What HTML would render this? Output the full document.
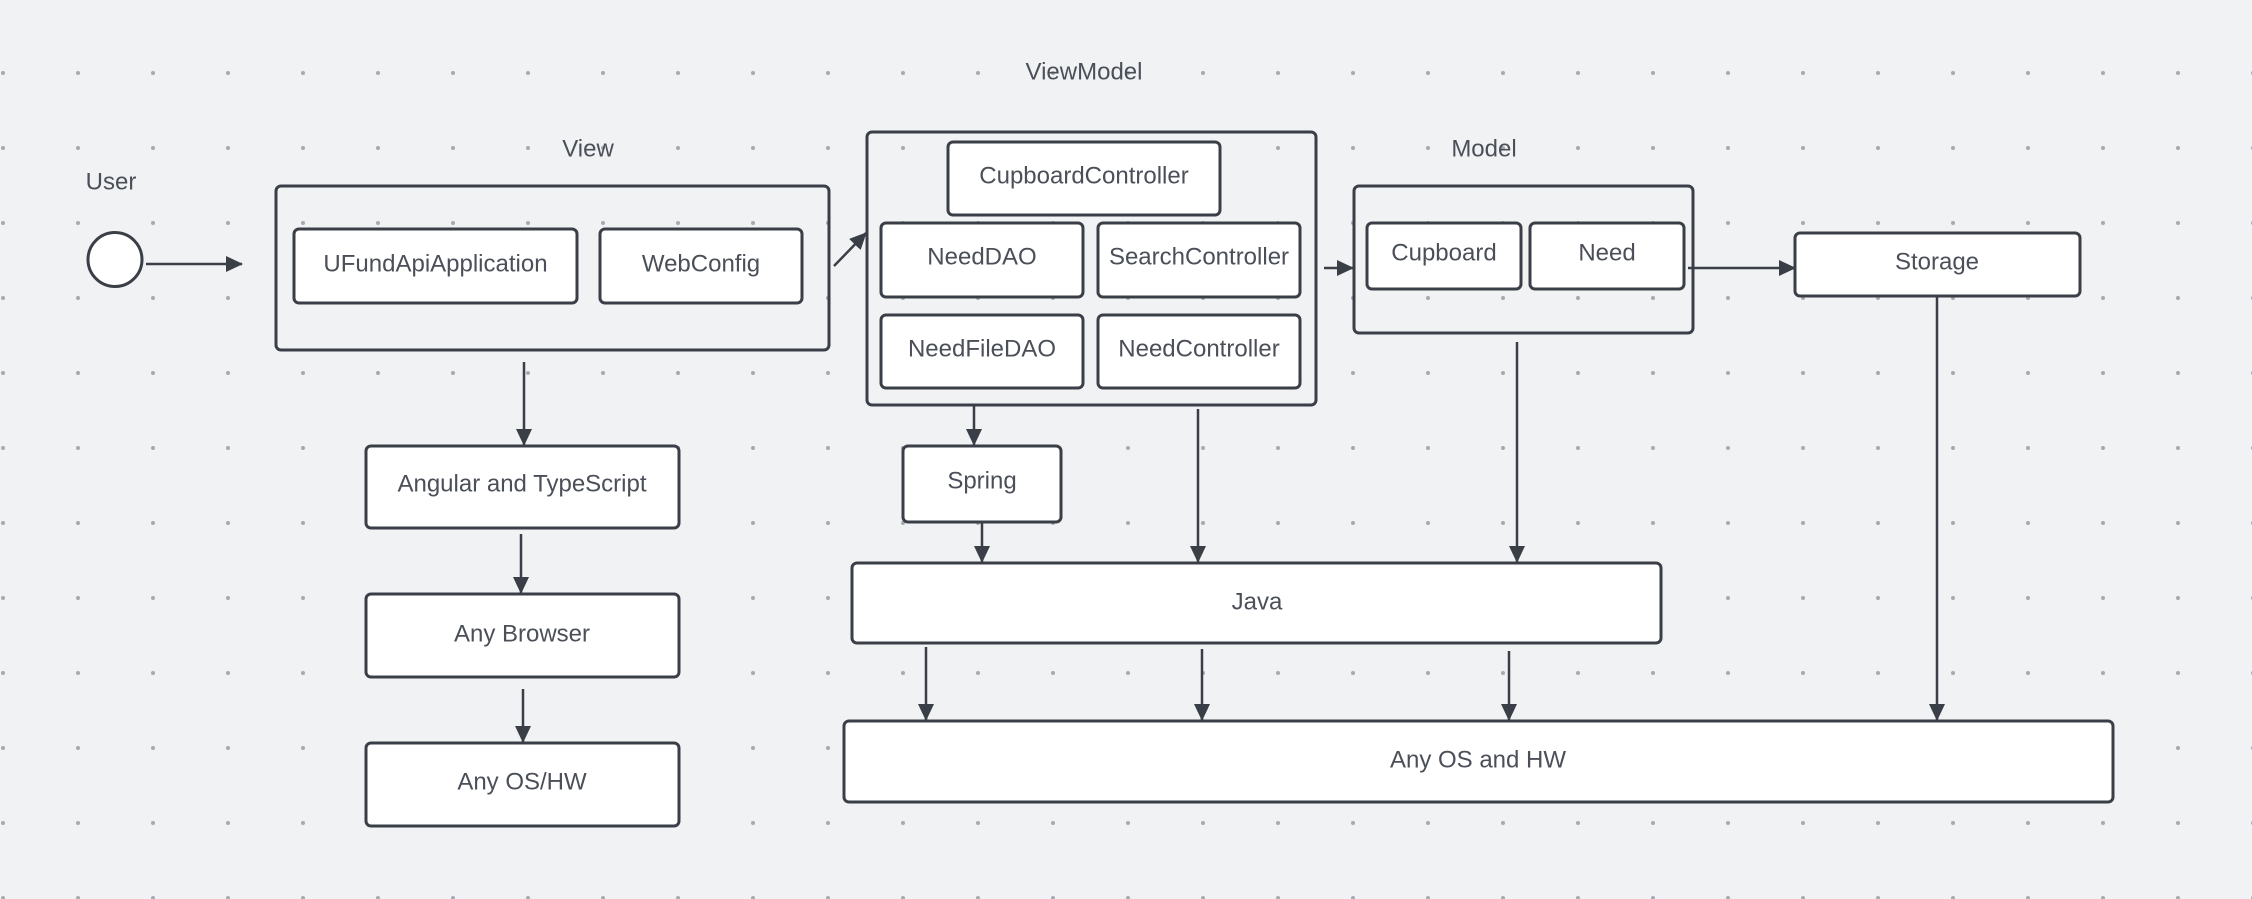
<!DOCTYPE html>
<html><head><meta charset="utf-8"><style>
html,body{margin:0;padding:0;background:#f1f2f4;}
svg{display:block}
text{font-family:"Liberation Sans",Arial,sans-serif;font-size:24px;fill:#4a4f58;text-anchor:middle;dominant-baseline:central}
.b{fill:#fff;stroke:#3a3f47;stroke-width:3}
.c{fill:none;stroke:#3a3f47;stroke-width:3}
.l{stroke:#3a3f47;stroke-width:2.5;fill:none}
</style></head><body>
<svg width="2252" height="899" viewBox="0 0 2252 899" xmlns="http://www.w3.org/2000/svg">
<defs>
<pattern id="dots" x="3" y="-2" width="75" height="75" patternUnits="userSpaceOnUse">
<circle cx="0" cy="0" r="2" fill="#a7abb1"/><circle cx="75" cy="0" r="2" fill="#a7abb1"/><circle cx="0" cy="75" r="2" fill="#a7abb1"/><circle cx="75" cy="75" r="2" fill="#a7abb1"/>
</pattern>
<marker id="a" markerWidth="10" markerHeight="10" refX="9" refY="5" orient="auto" markerUnits="userSpaceOnUse" viewBox="0 0 10 10">
<path d="M0,0 L10,5 L0,10 z" fill="#3a3f47"/>
</marker>
<marker id="ah" markerWidth="17" markerHeight="16" refX="16" refY="8" orient="auto" markerUnits="userSpaceOnUse">
<path d="M0,0 L17,8 L0,16 z" fill="#3a3f47"/>
</marker>
</defs>
<rect width="2252" height="899" fill="url(#dots)"/>

<!-- labels -->
<text x="111" y="182">User</text>
<text x="588" y="149">View</text>
<text x="1084" y="72">ViewModel</text>
<text x="1484" y="149">Model</text>

<!-- user -->
<circle cx="115" cy="259.5" r="27" class="b"/>
<line x1="146" y1="264" x2="242" y2="264" class="l" marker-end="url(#ah)"/>

<!-- View -->
<rect x="276" y="186" width="553" height="164" rx="5" class="c"/>
<rect x="294" y="229" width="283" height="74" rx="5" class="b"/><text x="435.5" y="264">UFundApiApplication</text>
<rect x="600" y="229" width="202" height="74" rx="5" class="b"/><text x="701" y="264">WebConfig</text>
<line x1="834" y1="266" x2="866" y2="233" class="l" marker-end="url(#ah)"/>

<!-- ViewModel -->
<rect x="867" y="132" width="449" height="273" rx="5" class="c"/>
<rect x="948" y="142" width="272" height="73" rx="5" class="b"/><text x="1084" y="176">CupboardController</text>
<rect x="881" y="223" width="202" height="74" rx="5" class="b"/><text x="982" y="257">NeedDAO</text>
<rect x="1098" y="223" width="202" height="74" rx="5" class="b"/><text x="1199" y="257">SearchController</text>
<rect x="881" y="315" width="202" height="73" rx="5" class="b"/><text x="982" y="349">NeedFileDAO</text>
<rect x="1098" y="315" width="202" height="73" rx="5" class="b"/><text x="1199" y="349">NeedController</text>
<line x1="1324" y1="268" x2="1353" y2="268" class="l" marker-end="url(#ah)"/>

<!-- Model -->
<rect x="1354" y="186" width="339" height="147" rx="5" class="c"/>
<rect x="1367" y="223" width="154" height="66" rx="5" class="b"/><text x="1444" y="253">Cupboard</text>
<rect x="1530" y="223" width="154" height="66" rx="5" class="b"/><text x="1607" y="253">Need</text>
<line x1="1688" y1="268" x2="1795" y2="268" class="l" marker-end="url(#ah)"/>

<rect x="1795" y="233" width="285" height="63" rx="5" class="b"/><text x="1937" y="262">Storage</text>

<!-- left stack -->
<line x1="524" y1="362" x2="524" y2="445" class="l" marker-end="url(#ah)"/>
<rect x="366" y="446" width="313" height="82" rx="5" class="b"/><text x="522" y="484">Angular and TypeScript</text>
<line x1="521" y1="534" x2="521" y2="593" class="l" marker-end="url(#ah)"/>
<rect x="366" y="594" width="313" height="83" rx="5" class="b"/><text x="522" y="634">Any Browser</text>
<line x1="523" y1="689" x2="523" y2="742" class="l" marker-end="url(#ah)"/>
<rect x="366" y="743" width="313" height="83" rx="5" class="b"/><text x="522" y="782">Any OS/HW</text>

<!-- Spring / Java -->
<line x1="974" y1="405" x2="974" y2="445" class="l" marker-end="url(#ah)"/>
<rect x="903" y="446" width="158" height="76" rx="5" class="b"/><text x="982" y="481">Spring</text>
<line x1="982" y1="522" x2="982" y2="562" class="l" marker-end="url(#ah)"/>
<line x1="1198" y1="409" x2="1198" y2="562" class="l" marker-end="url(#ah)"/>
<line x1="1517" y1="342" x2="1517" y2="562" class="l" marker-end="url(#ah)"/>
<rect x="852" y="563" width="809" height="80" rx="5" class="b"/><text x="1257" y="602">Java</text>

<line x1="926" y1="647" x2="926" y2="720" class="l" marker-end="url(#ah)"/>
<line x1="1202" y1="649" x2="1202" y2="720" class="l" marker-end="url(#ah)"/>
<line x1="1509" y1="651" x2="1509" y2="720" class="l" marker-end="url(#ah)"/>
<line x1="1937" y1="296" x2="1937" y2="720" class="l" marker-end="url(#ah)"/>
<rect x="844" y="721" width="1269" height="81" rx="5" class="b"/><text x="1478" y="760">Any OS and HW</text>
</svg>
</body></html>
